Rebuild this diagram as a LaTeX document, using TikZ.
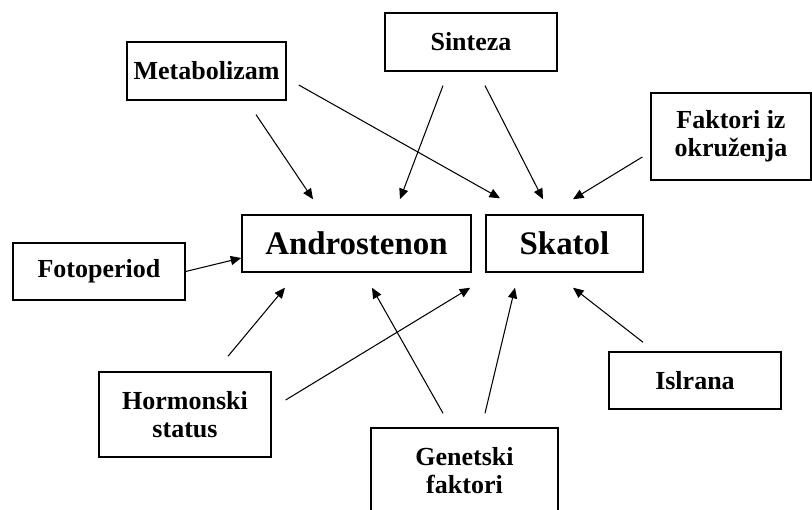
\documentclass[tikz,border=0pt]{standalone}
\usepackage{fontspec}
\setmainfont{Liberation Serif}
\usepackage{tikz}
\usetikzlibrary{arrows.meta, positioning, calc}

\begin{document}
\begin{tikzpicture}[x=0.025cm, y=-0.025cm]
    \tikzstyle{block} = [rectangle, draw, line width=0.9pt, minimum width=4.3cm, minimum height=1.43cm, align=center, font=\bfseries\fontsize{18.5}{19.6}\selectfont]
    \tikzstyle{main} = [block, minimum height=1.43cm, font=\bfseries\fontsize{23.4}{26}\selectfont]
    \tikzstyle{arr} = [-{Triangle[length=7.5pt, width=6.5pt]}, line width=0.75pt]

    \useasboundingbox (0,0) rectangle (812,510);

    % Centre
    \node[main, minimum width=5.73cm] (andr) at (356.5,243.5) {Androstenon};
    \node[main, minimum width=3.93cm] (ska) at (564.5,243.5) {Skatol};

    % Top
    \node[block, minimum width=3.98cm, minimum height=1.45cm] (met) at (206.5,71) {Metabolizam};
    \node[block, minimum height=1.45cm] (sin) at (471,42) {Sinteza};
    \node[block, minimum width=4cm, minimum height=2.18cm] (fak) at (731,136.5) {Faktori iz\\okruženja};

    % Left
    \node[block] (foto) at (99,271.5) {Fotoperiod};
    \node[block, minimum height=2.13cm] (horm) at (185,414.5) {Hormonski\\status};

    % Bottom
    \node[block, minimum width=4.68cm, minimum height=2.13cm] (gen) at (464.5,470.5) {Genetski\\faktori};
    \node[block] (isl) at (695,380.5) {Islrana};

    % Arrows
    \draw[arr] ($(met.south)+(49.5,14)$) -- ($(andr.north)+(-43.5,-15)$);
    \draw[arr] ($(met.east)+(12,14)$) -- ($(ska.north)+(-64.5,-16)$);
    \draw[arr] ($(sin.south)+(-28,14)$) -- ($(andr.north)+(43.5,-15)$);
    \draw[arr] ($(sin.south)+(14,14)$) -- ($(ska.north)+(-21.5,-15)$);
    \draw[arr] ($(fak.west)+(-8,20.5)$) -- ($(ska.north)+(8.5,-15)$);
    \draw[arr] (foto.east) -- ($(andr.west)+(0,14.5)$);
    \draw[arr] ($(horm.north)+(43,-15)$) -- ($(andr.south)+(-71.5,15)$);
    \draw[arr] ($(horm.east)+(14,-14.5)$) -- ($(ska.south west)+(-15,15)$);
    \draw[arr] ($(gen.north)+(-21.5,-14)$) -- ($(andr.south)+(15.5,15)$);
    \draw[arr] ($(gen.north)+(20.5,-14)$) -- ($(ska.south)+(-49.5,15)$);
    \draw[arr] ($(isl.north)+(-52,-9)$) -- ($(ska.south)+(8.5,15)$);
\end{tikzpicture}
\end{document}
